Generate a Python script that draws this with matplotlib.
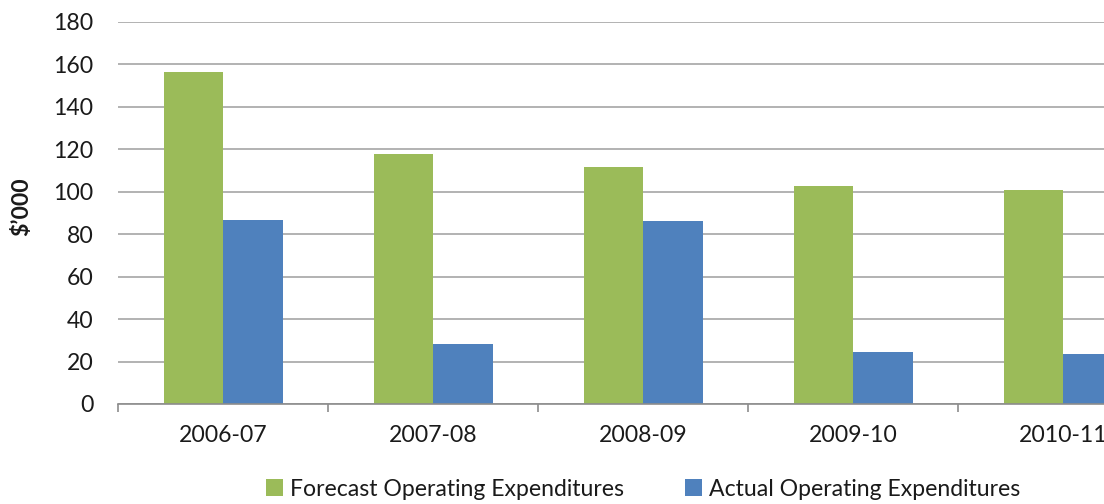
import matplotlib
matplotlib.use("Agg")
import matplotlib.pyplot as plt
from matplotlib.patches import Patch
import numpy as np

categories = ["2006-07", "2007-08", "2008-09", "2009-10", "2010-11"]
forecast = [156.3, 117.6, 111.8, 102.8, 100.7]
actual = [86.6, 28.2, 86.0, 24.6, 23.6]
series_names = ["Forecast Operating Expenditures", "Actual Operating Expenditures"]
yticks = [0, 20, 40, 60, 80, 100, 120, 140, 160, 180]

GREEN = "#9BBB59"
BLUE = "#4F81BD"
FONT = "Lato"
FS = 16.6

plt.rcParams["font.family"] = [FONT, "DejaVu Sans"]

fig = plt.figure(figsize=(11.04, 5.04), dpi=100)
ax = fig.add_axes([118.3 / 1104, 100 / 504, 1050 / 1104, 382.3 / 504])

x = np.arange(len(categories))
w = 0.2833
ax.bar(x - w / 2, forecast, width=w, color=GREEN, zorder=3)
ax.bar(x + w / 2, actual, width=w, color=BLUE, zorder=3)

ax.set_xlim(-0.5, len(categories) - 0.5)
ax.set_ylim(0, 180)
ax.set_yticks(yticks)
ax.yaxis.grid(True, color="#a6a6a6", linewidth=1.2, zorder=0)
ax.set_axisbelow(True)

for s in ["top", "right", "left"]:
    ax.spines[s].set_visible(False)
ax.spines["bottom"].set_color("#8c8c8c")
ax.spines["bottom"].set_linewidth(1.2)
ax.spines["bottom"].set_zorder(4)

ax.set_xticks(x)
ax.set_xticklabels(categories)
ax.set_xticks(np.arange(-0.5, len(categories) + 0.5, 1), minor=True)
ax.tick_params(axis="x", which="major", length=0, pad=15, labelsize=FS, labelcolor="#1a1a1a")
ax.tick_params(axis="x", which="minor", length=5.5, width=1.2, color="#8c8c8c")
ax.tick_params(axis="y", length=0, pad=18, labelsize=FS, labelcolor="#1a1a1a")

fig.text(22 / 1104, 1 - 207 / 504, "$\u2019000", rotation=90, ha="center", va="center",
         fontsize=FS, fontweight="bold", color="#1a1a1a")

handles = [Patch(facecolor=GREEN, edgecolor="none"), Patch(facecolor=BLUE, edgecolor="none")]
fig.legend(handles, series_names, loc="center", bbox_to_anchor=(643 / 1104, 1 - 489 / 504),
           ncol=2, frameon=False, fontsize=FS, handlelength=0.75, handleheight=0.75,
           handletextpad=0.3, columnspacing=2.65, labelcolor="#1a1a1a")

fig.savefig("out.png", dpi=100)
